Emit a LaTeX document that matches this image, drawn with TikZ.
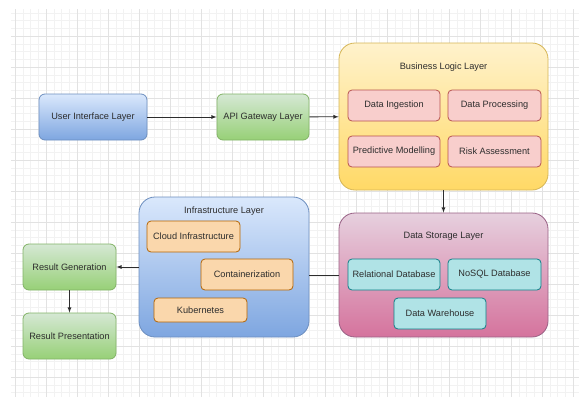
\documentclass[tikz,border=0pt]{standalone}
\usepackage{fontspec}
\setmainfont{Liberation Sans}
\usepackage{tikz}
\usetikzlibrary{arrows}
\usetikzlibrary{calc}
\usetikzlibrary{positioning}
\definecolor{gridminor}{RGB}{242,242,242}
\definecolor{gridmajor}{RGB}{226,226,226}
\definecolor{txt}{RGB}{45,45,45}
\definecolor{blueTop}{HTML}{DAE8FC}
\definecolor{blueBot}{HTML}{7EA6E0}
\definecolor{blueLine}{HTML}{6C8EBF}
\definecolor{greenTop}{HTML}{D5E8D4}
\definecolor{greenBot}{HTML}{97D077}
\definecolor{greenLine}{HTML}{82B366}
\definecolor{yellowTop}{HTML}{FFF2CC}
\definecolor{yellowBot}{HTML}{FFD966}
\definecolor{yellowLine}{HTML}{D6B656}
\definecolor{pinkTop}{HTML}{E6D0DE}
\definecolor{pinkBot}{HTML}{D5739D}
\definecolor{pinkLine}{HTML}{996185}
\definecolor{redFill}{HTML}{F8CECC}
\definecolor{redLine}{HTML}{B85450}
\definecolor{tealFill}{HTML}{B0E3E6}
\definecolor{tealLine}{HTML}{0E8088}
\definecolor{orangeFill}{HTML}{FAD7AC}
\definecolor{orangeLine}{HTML}{B46504}
\tikzset{
  box/.style={draw, rounded corners=6pt, inner sep=0pt, text=txt,
    font=\fontsize{9.2}{11}\selectfont, line width=0.8pt},
  bluebox/.style={box, top color=blueTop, bottom color=blueBot, draw=blueLine},
  greenbox/.style={box, top color=greenTop, bottom color=greenBot, draw=greenLine},
  layerbox/.style={box, rounded corners=16pt},
  item/.style={box, rounded corners=4pt, minimum width=92pt, minimum height=31pt},
  reditem/.style={item, fill=redFill, draw=redLine},
  tealitem/.style={item, fill=tealFill, draw=tealLine},
  orangeitem/.style={item, fill=orangeFill, draw=orangeLine},
  title/.style={text=txt, inner sep=0pt, font=\fontsize{9.2}{11}\selectfont},
  link/.style={draw=txt, line width=0.8pt}
}

\begin{document}
\begin{tikzpicture}[x=1pt, y=-1pt, >=latex]
  \useasboundingbox (0,0) rectangle (579,397);
  \fill[white] (0,0) rectangle (579,397);
  % background grid
  \begin{scope}
    \clip (11,9) rectangle (579,397);
    \foreach \k in {0,...,72}
      \draw[gridminor, line width=0.5pt] ({15+7.75*\k},9) -- ({15+7.75*\k},397);
    \foreach \k in {1,...,50}
      \draw[gridminor, line width=0.5pt] (11,{5+7.75*\k}) -- (579,{5+7.75*\k});
    \foreach \k in {0,...,18}
      \draw[gridmajor, line width=0.7pt] ({15+31*\k},9) -- ({15+31*\k},397);
    \foreach \k in {1,...,12}
      \draw[gridmajor, line width=0.7pt] (11,{5+31*\k}) -- (579,{5+31*\k});
  \end{scope}

  % top row
  \node[bluebox, minimum width=108pt, minimum height=46pt] (ui) at (93,117) {User Interface Layer};
  \node[greenbox, minimum width=92pt, minimum height=46pt] (api) at (263,117) {API Gateway Layer};

  % business logic
  \node[layerbox, top color=yellowTop, bottom color=yellowBot, draw=yellowLine,
        minimum width=209pt, minimum height=147pt] (bll) at (443.5,116.5) {};
  \node[title] (blltitle) at (443.5,67) {Business Logic Layer};
  \node[reditem] (ingest) at (394,105.5) {Data Ingestion};
  \node[reditem, minimum width=93pt] (process) at (494.5,105.5) {Data Processing};
  \node[reditem] (model) at (394,151.5) {Predictive Modelling};
  \node[reditem, minimum width=93pt] (risk) at (494.5,151.5) {Risk Assessment};

  % data storage
  \node[layerbox, top color=pinkTop, bottom color=pinkBot, draw=pinkLine,
        minimum width=209pt, minimum height=124pt] (dsl) at (443.5,275) {};
  \node[title] (dsltitle) at (443.5,236) {Data Storage Layer};
  \node[tealitem] (reldb) at (394,274.5) {Relational Database};
  \node[tealitem, minimum width=93pt] (nosql) at (494.5,274.5) {NoSQL Database};
  \node[tealitem] (dwh) at (440,313.5) {Data Warehouse};

  % infrastructure
  \node[layerbox, top color=blueTop, bottom color=blueBot, draw=blueLine,
        minimum width=170pt, minimum height=140pt] (infra) at (224,267) {};
  \node[title] (infratitle) at (224,211) {Infrastructure Layer};
  \node[orangeitem, minimum width=93pt] (cloud) at (193.5,236.5) {Cloud Infrastructure};
  \node[orangeitem] (contain) at (247,274.5) {Containerization};
  \node[orangeitem, minimum width=93pt, minimum height=24pt] (kube) at (200.5,310) {Kubernetes};

  % results
  \node[greenbox, minimum width=93pt, minimum height=46pt] (rgen) at (69.5,267) {Result Generation};
  \node[greenbox, minimum width=93pt, minimum height=46pt] (rpres) at (69.5,336) {Result Presentation};

  % connectors
  \draw[link, ->] (ui) -- (api);
  \draw[link, ->] (api) -- (bll);
  \draw[link, ->] (bll) -- (dsl);
  \draw[link] (dsl.west) -- (dsl.west -| infra.east);
  \draw[link, ->] (infra) -- (rgen);
  \draw[link, ->] (rgen) -- (rpres);
\end{tikzpicture}
\end{document}
